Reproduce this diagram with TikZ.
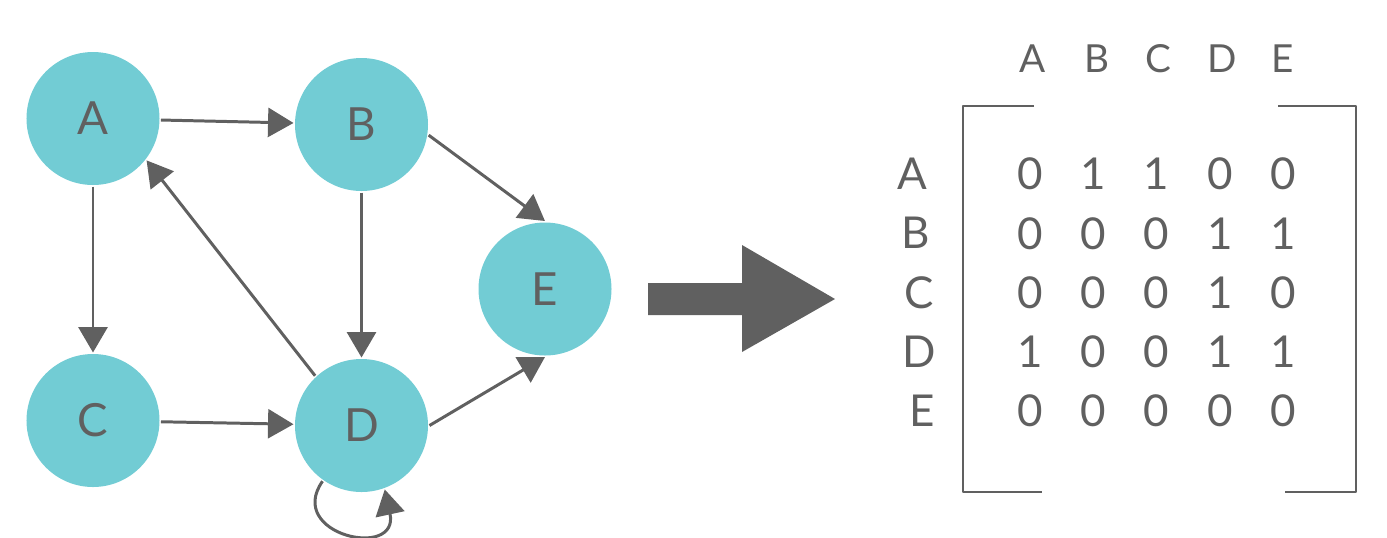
\documentclass[tikz,border=0pt]{standalone}
\usepackage{fontspec}
\setmainfont{Lato}
\usetikzlibrary{arrows.meta}

\definecolor{nodeteal}{HTML}{72CCD4}
\definecolor{inkgray}{HTML}{606060}

\begin{document}
\begin{tikzpicture}[x=0.2mm, y=-0.2mm, line width=1.7pt, line join=round,
    >={Triangle[length=14.5pt,width=16.5pt]},
    vertex/.style={circle, fill=nodeteal, minimum size=26.6mm, inner sep=0pt,
      text=inkgray, font=\fontsize{26}{26}\selectfont},
    edge/.style={->, draw=inkgray},
    entry/.style={inner sep=0pt, text=inkgray, font=\fontsize{25}{25}\selectfont},
    header/.style={inner sep=0pt, text=inkgray, font=\fontsize{22}{22}\selectfont},
    bracket/.style={draw=inkgray, line width=1.4pt}]
  % pixel frame of the reference, y pointing down
  \useasboundingbox (0,0) rectangle (1387,537);

  % the graph
  \node[vertex] (A) at (93,118.5) {A};
  \node[vertex] (B) at (361.5,124.5) {B};
  \node[vertex] (C) at (93,420.5) {C};
  \node[vertex] (D) at (361.5,425.5) {D};
  \node[vertex] (E) at (545,289) {E};

  \draw[edge] (A) -- (B);
  \draw[edge] (A) -- (C);
  \draw[edge] (B) -- (D);
  \draw[edge] (C) -- (D);
  \draw[edge] (D.133) -- (A.-38);
  \draw[edge] (B.-9) -- (E.north);
  \draw[edge] (D.east) -- (E.south);
  % self loop under D
  \draw[edge] (D.235) .. controls (285,535) and (400,560) .. (D.290);

  % big block arrow
  \fill[inkgray] (648,283) -- (742,283) -- (742,245) -- (835,299)
    -- (742,352) -- (742,315) -- (648,315) -- cycle;

  % adjacency matrix
  \foreach \name/\hx [count=\j] in {A/1033, B/1097, C/1158, D/1222, E/1283}
    \node[header] (h\j) at (\hx,59) {\name};

  \foreach \name/\rx/\vals [count=\i] in {A/912/{0,1,1,0,0}, B/916/{0,0,0,1,1},
      C/919/{0,0,0,1,0}, D/919/{1,0,0,1,1}, E/922/{0,0,0,0,0}} {
    \pgfmathsetmacro{\ry}{174+59.25*(\i-1)}
    \node[entry] (r\i) at (\rx,\ry) {\name};
    \foreach \v [count=\j] in \vals {
      \pgfmathsetmacro{\cx}{1030+63.25*(\j-1)}
      \node[entry] (m\i\j) at (\cx,\ry) {\v};
    }
  }

  % brackets
  \draw[bracket] (1034,106) -| (963,492) -- (1042,492);
  \draw[bracket] (1278,106) -| (1356,492) -- (1285,492);
\end{tikzpicture}
\end{document}
